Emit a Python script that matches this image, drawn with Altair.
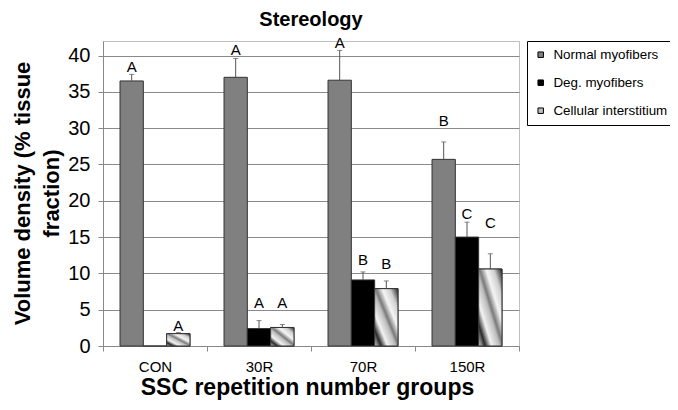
import altair as alt
import pandas as pd

groups = ["CON", "30R", "70R", "150R"]
series = ["Normal myofibers", "Deg. myofibers", "Cellular interstitium"]

normal = [36.5, 37.0, 36.6, 25.7]
normal_err = [37.4, 39.6, 40.7, 28.1]
normal_letters = ["A", "A", "A", "B"]
normal_letter_y = [37.7, 40.1, 41.0, 30.3]

deg = [0.0, 2.4, 9.1, 15.0]
deg_err = [None, 3.5, 10.2, 17.05]
deg_letters = [None, "A", "B", "C"]
deg_letter_y = [None, 5.2, 11.2, 17.45]

cell = [1.7, 2.55, 7.9, 10.6]
cell_err = [1.85, 2.96, 8.96, 12.7]
cell_letters = ["A", "A", "B", "C"]
cell_letter_y = [2.05, 5.2, 10.6, 16.2]

rows = []
for s, vals, errs, lets, ly in [
    (series[0], normal, normal_err, normal_letters, normal_letter_y),
    (series[1], deg, deg_err, deg_letters, deg_letter_y),
    (series[2], cell, cell_err, cell_letters, cell_letter_y),
]:
    for g, v, e, l, y in zip(groups, vals, errs, lets, ly):
        rows.append({"group": g, "series": s, "value": v, "err": e, "letter": l, "ly": y})
df = pd.DataFrame(rows)

FONT = "Liberation Sans"
W, H = 416, 305

x_axis = alt.Axis(title="SSC repetition number groups", labelAngle=0,
                  labelFontSize=15, labelColor="black", labelPadding=20,
                  labelBaseline="alphabetic",
                  tickBand="extent", tickSize=5, tickColor="#888888",
                  domainColor="#888888", titleFontSize=23, titleFontWeight="bold",
                  titleColor="black", titleBaseline="alphabetic",
                  titleX=204, titleY=48, titleAlign="center")
x_enc = alt.X("group:N", sort=groups,
              scale=alt.Scale(paddingInner=0, paddingOuter=0), axis=x_axis)
xo_enc = alt.XOffset("series:N", sort=series,
                     scale=alt.Scale(domain=series, paddingInner=0, paddingOuter=0.73))
y_scale = alt.Scale(domain=[0, 42], nice=False)
y_axis = alt.Axis(title=["Volume density (% tissue", "fraction)"],
                  values=[0, 5, 10, 15, 20, 25, 30, 35, 40], labelFontSize=20,
                  labelColor="black", labelPadding=8, tickSize=5, labelOverlap=False,
                  tickColor="#888888", domainColor="#888888",
                  grid=True, gridColor="#8a8a8a", gridWidth=1,
                  titleFontSize=22, titleFontWeight="bold", titleColor="black",
                  titleAngle=270, titleBaseline="alphabetic", titleAlign="center",
                  titleX=-74, titleY=152, titleLineHeight=29)


def Y(field):
    return alt.Y(field, scale=y_scale, axis=y_axis)


base = alt.Chart(df)

bars = base.mark_bar(stroke="#333333", strokeWidth=1).encode(
    x=x_enc, xOffset=xo_enc, y=Y("value:Q"),
    color=alt.Color("series:N", sort=series,
                    scale=alt.Scale(domain=series, range=["#808080", "#000000", "#bdbdbd"]),
                    legend=alt.Legend(title=None, orient="none", legendX=424, legendY=0,
                                      symbolType="square", symbolSize=30,
                                      symbolStrokeColor="black", symbolStrokeWidth=1,
                                      labelFontSize=13.4, labelColor="black",
                                      labelOffset=6, rowPadding=13, padding=7,
                                      strokeColor="black", fillColor="white")),
)

grad = alt.Gradient(
    gradient="linear", x1=0, y1=1, x2=1, y2=0,
    stops=[
        alt.GradientStop(color="#d8d8d8", offset=0.0),
        alt.GradientStop(color="#2a2a2a", offset=0.14),
        alt.GradientStop(color="#f2f2f2", offset=0.28),
        alt.GradientStop(color="#bdbdbd", offset=0.45),
        alt.GradientStop(color="#7a7a7a", offset=0.52),
        alt.GradientStop(color="#f5f5f5", offset=0.66),
        alt.GradientStop(color="#cfcfcf", offset=0.82),
        alt.GradientStop(color="#1e1e1e", offset=1.0),
    ],
)

cell_bars = base.transform_filter(alt.datum.series == series[2]).mark_bar(
    fill=grad, stroke="#333333", strokeWidth=1
).encode(x=x_enc, xOffset=xo_enc, y=Y("value:Q"))

err_df = base.transform_filter("isValid(datum.err)")
err_rules = err_df.mark_rule(color="#555555", strokeWidth=1).encode(
    x=x_enc, xOffset=xo_enc, y=Y("value:Q"), y2="err:Q")
err_caps = err_df.mark_tick(color="#555555", size=5, thickness=1, orient="horizontal").encode(
    x=x_enc, xOffset=xo_enc, y=Y("err:Q"))

letters = base.transform_filter("isValid(datum.letter)").mark_text(
    font=FONT, fontSize=15, color="black", baseline="alphabetic", align="center"
).encode(x=x_enc, xOffset=xo_enc, y=Y("ly:Q"), text="letter:N")

chart = alt.layer(bars, cell_bars, err_rules, err_caps, letters).properties(
    width=W, height=H,
    autosize=alt.AutoSizeParams(type="none"),
    padding={"left": 95, "top": 33, "right": 151, "bottom": 56},
    title=alt.Title("Stereology", fontSize=20, fontWeight="bold", color="black",
                    anchor="middle", offset=6, font=FONT),
).configure(font=FONT).configure_view(stroke="#c0c0c0", strokeWidth=1).configure_axis(
    labelFont=FONT, titleFont=FONT
).configure_legend(labelFont=FONT)

chart.save("out.html", embed_options={"renderer": "svg", "actions": False})
